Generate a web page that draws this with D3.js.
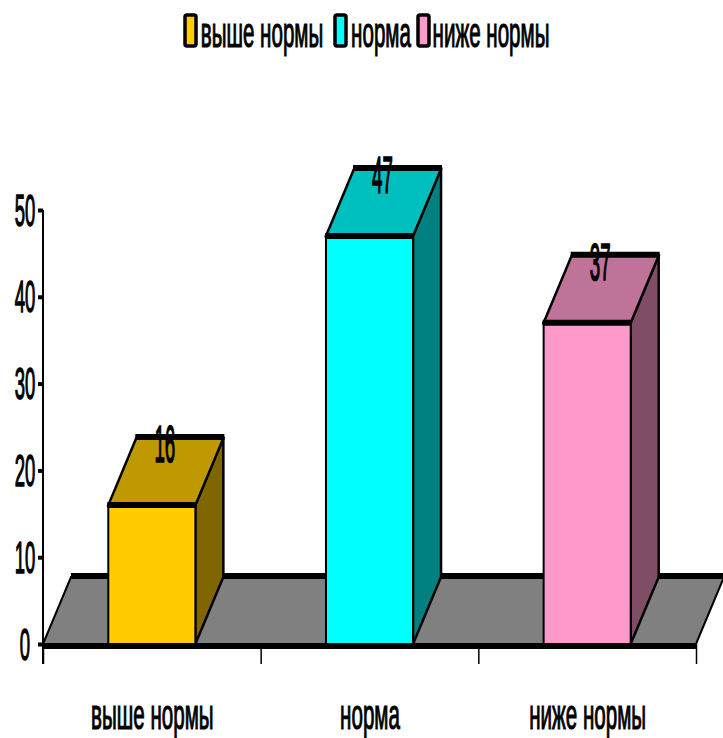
<!DOCTYPE html>
<html><head><meta charset="utf-8">
<style>html,body{margin:0;padding:0;background:#fff}svg{display:block}</style>
<script src="https://cdn.jsdelivr.net/npm/d3@7/dist/d3.min.js"></script></head>
<body><svg id="c" width="723" height="738"></svg>
<script>
const categories = ["выше нормы", "норма", "ниже нормы"];
const values = [16, 47, 37];
const frontColors = ["#FFCC00", "#00FFFF", "#FF99CC"];
const topColors = ["#BF9900", "#00BFBF", "#BF7399"];
const sideColors = ["#806600", "#008080", "#804D66"];
const yTicks = [0, 10, 20, 30, 40, 50];

const svg = d3.select("#c");
const font = "'Liberation Sans', Arial, sans-serif";
const y = d3.scaleLinear().domain([0, 50]).range([644, 210]);
const x = d3.scaleBand().domain(categories).range([43, 696]).paddingInner(0.6).paddingOuter(0.3);
const xEdges = d3.scalePoint().domain(d3.range(categories.length + 1)).range([43, 696]);
const dx = 28, dy = -67;

function squeezed(sel, size, sx, ax, ay, sw) {
  sel.attr("font-family", font).attr("font-size", size).attr("fill", "#000")
     .attr("stroke", "#000").attr("stroke-width", sw).attr("text-anchor", "middle")
     .attr("transform", `translate(${ax},${ay}) scale(${sx},1)`).attr("x", 0).attr("y", 0);
}

// floor
const y0 = y(0), xa = 43, xb = 696;
svg.append("path").attr("d", `M${xa},${y0}L${xa + dx},${y0 + dy}L${xb + dx},${y0 + dy}L${xb},${y0}Z`)
  .attr("fill", "#808080").attr("stroke", "#000").attr("stroke-width", 2);
svg.append("line").attr("x1", xa + dx).attr("x2", xb + dx).attr("y1", y0 + dy - 1).attr("y2", y0 + dy - 1)
  .attr("stroke", "#000").attr("stroke-width", 6);

// bars
const bars = svg.append("g").selectAll("g").data(values).join("g");
bars.each(function (v, i) {
  const g = d3.select(this), l = x(categories[i]), r = l + x.bandwidth(), t = y(v), b = y(0);
  g.append("path").attr("d", `M${r},${b}L${r + dx},${b + dy}L${r + dx},${t + dy}L${r},${t}Z`)
    .attr("fill", sideColors[i]).attr("stroke", "#000").attr("stroke-width", 2.5);
  g.append("path").attr("d", `M${l},${t}L${l + dx},${t + dy}L${r + dx},${t + dy}L${r},${t}Z`)
    .attr("fill", topColors[i]).attr("stroke", "#000").attr("stroke-width", 2.5);
  g.append("rect").attr("x", l).attr("y", t).attr("width", x.bandwidth()).attr("height", b - t)
    .attr("fill", frontColors[i]).attr("stroke", "#000").attr("stroke-width", 2);
  g.append("line").attr("x1", l - 1).attr("x2", r + 1).attr("y1", t).attr("y2", t).attr("stroke", "#000").attr("stroke-width", 6);
  g.append("line").attr("x1", l + dx - 1).attr("x2", r + dx + 1).attr("y1", t + dy - 1).attr("y2", t + dy - 1).attr("stroke", "#000").attr("stroke-width", 6);
});

// y axis
const yAxis = svg.append("g").attr("transform", "translate(43,0)")
  .call(d3.axisLeft(y).tickValues(yTicks).tickSize(5).tickSizeOuter(0));
yAxis.select(".domain").attr("stroke", "#000").attr("stroke-width", 2).attr("d", "M0,210V664");
yAxis.selectAll(".tick line").attr("stroke", "#000").attr("stroke-width", 4);
yAxis.selectAll(".tick text").each(function () {
  squeezed(d3.select(this).attr("dy", null), 44, 0.42, -18, 15, 1.4);
});

// x axis
const xAxis = svg.append("g").attr("transform", `translate(0,${y0})`)
  .call(d3.axisBottom(xEdges).tickSize(20).tickFormat("").tickSizeOuter(0));
xAxis.select(".domain").attr("stroke", "#000").attr("stroke-width", 6).attr("d", `M${xa},2H${xb}`);
xAxis.selectAll(".tick line").attr("stroke", "#000").attr("stroke-width", 1.5);
svg.append("g").selectAll("text").data(categories).join("text").text(d => d)
  .each(function (d) {
    squeezed(d3.select(this), 42, 0.49, x(d) + x.bandwidth() / 2 + 0.5, 729, 1.2);
  });

// value labels
svg.append("g").selectAll("text").data(values).join("text").text(d => d)
  .each(function (d, i) {
    squeezed(d3.select(this), 52, 0.36, x(categories[i]) + x.bandwidth() / 2 + 13, y(d) + dy + 24, 1.6);
  });

// legend
const legendSwatchX = [185, 335, 418];
const legendTextX = [262, 381, 491];
const lg = svg.append("g").selectAll("g").data(categories).join("g");
lg.append("rect").attr("x", (d, i) => legendSwatchX[i]).attr("y", 15).attr("width", 11).attr("height", 31).attr("rx", 2)
  .attr("fill", (d, i) => frontColors[i]).attr("stroke", "#000").attr("stroke-width", 3.5);
lg.append("text").text(d => d).each(function (d, i) {
  squeezed(d3.select(this), 42, 0.49, legendTextX[i], 47, 1.2);
});
</script></body></html>
